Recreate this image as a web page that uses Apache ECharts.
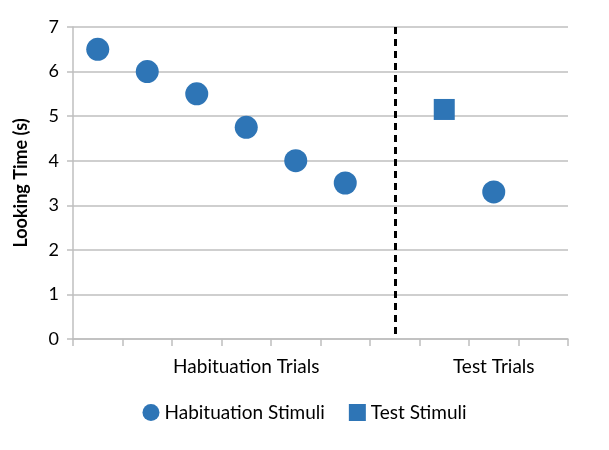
<!DOCTYPE html>
<html><head><meta charset="utf-8">
<script src="https://cdn.jsdelivr.net/npm/echarts@6/dist/echarts.min.js"></script>
<style>html,body{margin:0;padding:0;background:#fff}#c{width:609px;height:450px}</style>
</head><body><div id="c"></div>
<script>
var categories = ['', '', '', 'Habituation Trials', '', '', '', '', 'Test Trials', ''];
var habituationData = [[0, 6.5], [1, 6.0], [2, 5.5], [3, 4.75], [4, 4.0], [5, 3.5], [8, 3.3]];
var testData = [[7, 5.15]];
var dividerIndex = 6;
var yTicks = [0, 1, 2, 3, 4, 5, 6, 7];

var font = 'Lato';
var chart = echarts.init(document.getElementById('c'));
chart.setOption({
  animation: false,
  textStyle: {fontFamily: font},
  grid: {left: 73, right: 41, top: 27, bottom: 111},
  legend: {
    bottom: 23, left: 'center', itemGap: 24, itemWidth: 17, itemHeight: 17,
    textStyle: {fontSize: 19, color: '#000', fontFamily: font},
    data: [{name: 'Habituation Stimuli', icon: 'circle'}, {name: 'Test Stimuli', icon: 'rect'}]
  },
  xAxis: {
    type: 'category', data: categories, boundaryGap: true,
    axisLine: {lineStyle: {color: '#bfbfbf', width: 1.5}},
    axisTick: {show: true, length: 7, interval: 0, lineStyle: {color: '#bfbfbf', width: 1.5}},
    axisLabel: {interval: 0, fontSize: 19, color: '#000', margin: 18, fontFamily: font},
    splitLine: {show: false}
  },
  yAxis: {
    type: 'value', min: yTicks[0], max: yTicks[yTicks.length - 1], interval: 1,
    name: 'Looking Time (s)', nameLocation: 'middle', nameGap: 43,
    nameTextStyle: {fontSize: 18, fontWeight: 'bold', color: '#000', fontFamily: font},
    axisLine: {show: true, lineStyle: {color: '#bfbfbf', width: 1.5}},
    axisTick: {show: true, length: 6, lineStyle: {color: '#bfbfbf', width: 1.5}},
    axisLabel: {fontSize: 18, color: '#000', margin: 14, fontFamily: font},
    splitLine: {lineStyle: {color: '#bfbfbf', width: 1.5}}
  },
  series: [
    {
      name: 'Habituation Stimuli', type: 'scatter', symbol: 'circle', symbolSize: 23,
      itemStyle: {color: '#2e75b6', opacity: 1}, data: habituationData,
      markLine: {
        silent: true, symbol: ['none', 'none'], label: {show: false},
        lineStyle: {color: '#000', type: [7, 5], width: 3},
        data: [[{coord: [dividerIndex, 7]}, {coord: [dividerIndex, 0]}]]
      }
    },
    {
      name: 'Test Stimuli', type: 'scatter', symbol: 'rect', symbolSize: 21,
      itemStyle: {color: '#2e75b6', opacity: 1}, data: testData
    }
  ]
});
</script></body></html>
